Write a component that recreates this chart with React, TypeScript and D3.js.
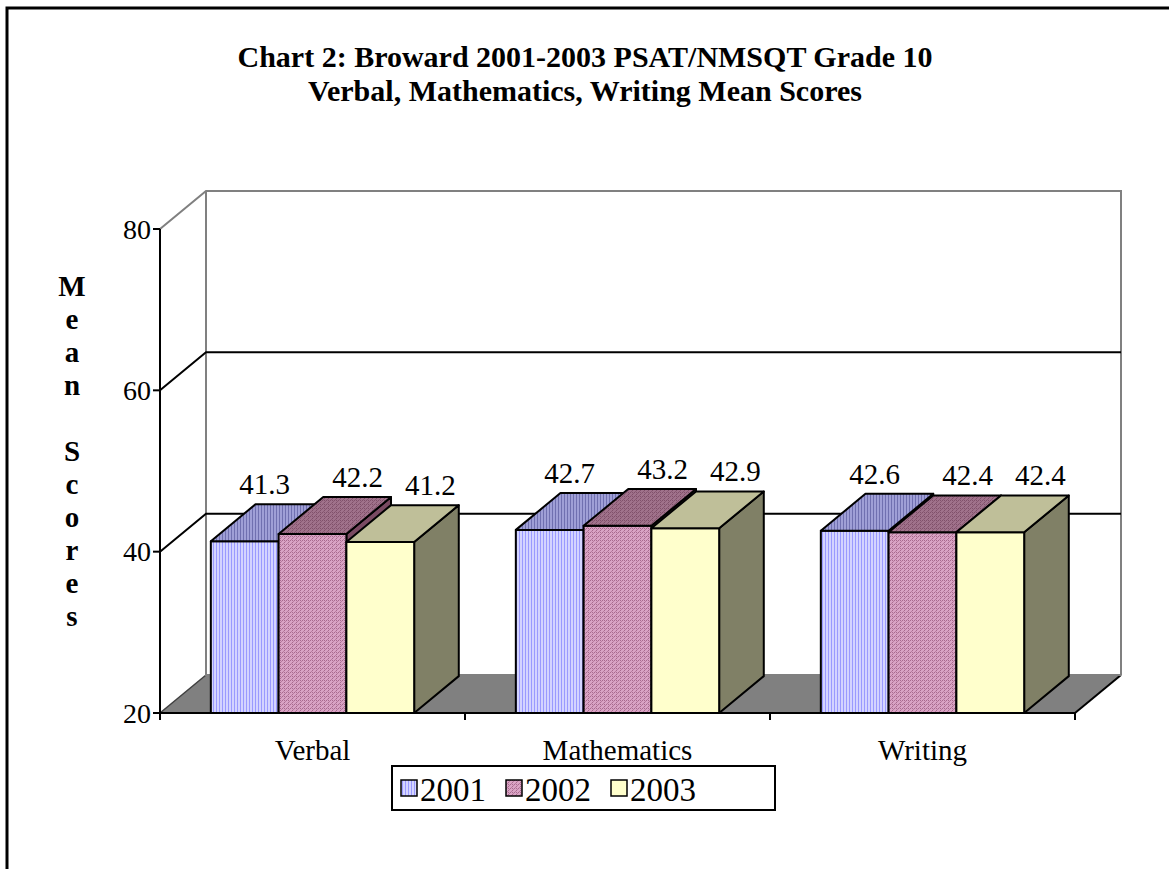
import React from "react";
import * as d3 from "d3";

const categories = ["Verbal", "Mathematics", "Writing"];
const years = ["2001", "2002", "2003"];
const values2001 = [41.3, 42.7, 42.6];
const values2002 = [42.2, 43.2, 42.4];
const values2003 = [41.2, 42.9, 42.4];
const yTicks = [20, 40, 60, 80];
const titleLines = [
  "Chart 2: Broward 2001-2003 PSAT/NMSQT Grade 10",
  "Verbal, Mathematics, Writing Mean Scores",
];
const yTitle = "Mean Scores";

const seriesValues = [values2001, values2002, values2003];

const W = 1169;
const H = 869;
const FONT = "'Liberation Serif', 'Times New Roman', serif";

// 3D projection offsets
const DX = 46;
const DY = -38;
const BAR_DEPTH = 0.97;

const faceFills = [
  { front: "url(#p2001f)", top: "url(#p2001t)", side: "#6666a0" },
  { front: "url(#p2002f)", top: "url(#p2002t)", side: "#7a4a62" },
  { front: "#ffffcc", top: "#bfbf99", side: "#808066" },
];
const legendFills = ["url(#p2001f)", "url(#p2002f)", "#ffffcc"];
const labelNudge = [20, 45, 50];

export default function App() {
  const x0 = 160;
  const x1 = 1075;
  const y = d3.scaleLinear().domain([20, 80]).range([713, 229]);
  const xCat = d3.scaleBand<string>().domain(categories).range([x0, x1]);
  const xSer = d3
    .scaleBand<string>()
    .domain(years)
    .range([0, xCat.bandwidth()])
    .paddingInner(0)
    .paddingOuter(0.75);

  const yBot = y(20);
  const yTop = y(80);
  const bdx = DX * BAR_DEPTH;
  const bdy = DY * BAR_DEPTH;

  const floor = [
    [x0, yBot],
    [x1, yBot],
    [x1 + DX, yBot + DY],
    [x0 + DX, yBot + DY],
  ];
  const line = d3.line();

  const bars: any[] = [];
  const labels: any[] = [];
  categories.forEach((c, ci) => {
    years.forEach((yr, si) => {
      const v = seriesValues[si][ci];
      const bx = (xCat(c) as number) + (xSer(yr) as number);
      const bw = xSer.bandwidth();
      const ty = y(v);
      const f = faceFills[si];
      const front = line([
        [bx, yBot],
        [bx + bw, yBot],
        [bx + bw, ty],
        [bx, ty],
      ]) + "Z";
      const top = line([
        [bx, ty],
        [bx + bdx, ty + bdy],
        [bx + bw + bdx, ty + bdy],
        [bx + bw, ty],
      ]) + "Z";
      const side = line([
        [bx + bw, yBot],
        [bx + bw + bdx, yBot + bdy],
        [bx + bw + bdx, ty + bdy],
        [bx + bw, ty],
      ]) + "Z";
      bars.push(
        <g key={`b-${c}-${yr}`} stroke="#000" strokeWidth={2} strokeLinejoin="round">
          <path d={side} fill={f.side} />
          <path d={front} fill={f.front} />
          <path d={top} fill={f.top} />
        </g>
      );
      labels.push(
        <text
          key={`l-${c}-${yr}`}
          x={bx + bw / 2 + labelNudge[si]}
          y={ty + bdy - 10}
          textAnchor="middle"
          fontSize={29}
          fontFamily={FONT}
        >
          {v.toFixed(1)}
        </text>
      );
    });
  });

  const gridVals = [40, 60];
  const boundaries = [x0, ...categories.map((c) => (xCat(c) as number) + xCat.bandwidth())];

  return (
    <svg
      width={W}
      height={H}
      style={{ position: "absolute", left: 0, top: 0, display: "block", background: "#fff" }}
    >
      <defs>
        <pattern id="p2001f" width={3} height={4} patternUnits="userSpaceOnUse">
          <rect width={3} height={4} fill="#d4d4ff" />
          <rect width={1} height={4} fill="#9a9aff" />
        </pattern>
        <pattern id="p2001t" width={3} height={4} patternUnits="userSpaceOnUse">
          <rect width={3} height={4} fill="#9f9fd6" />
          <rect width={1} height={4} fill="#7070b0" />
        </pattern>
        <pattern id="p2002f" width={4} height={4} patternUnits="userSpaceOnUse">
          <rect width={4} height={4} fill="#d9a3c4" />
          <rect x={0} y={0} width={1} height={1} fill="#a86a8e" />
          <rect x={2} y={0} width={1} height={1} fill="#a86a8e" />
          <rect x={1} y={1} width={1} height={1} fill="#b97c9f" />
          <rect x={0} y={2} width={1} height={1} fill="#a86a8e" />
          <rect x={3} y={3} width={1} height={1} fill="#b97c9f" />
        </pattern>
        <pattern id="p2002t" width={4} height={4} patternUnits="userSpaceOnUse">
          <rect width={4} height={4} fill="#a0728b" />
          <rect x={0} y={0} width={1} height={1} fill="#80506a" />
          <rect x={2} y={0} width={1} height={1} fill="#80506a" />
          <rect x={1} y={1} width={1} height={1} fill="#8a5a74" />
          <rect x={0} y={2} width={1} height={1} fill="#80506a" />
          <rect x={3} y={3} width={1} height={1} fill="#8a5a74" />
        </pattern>
      </defs>

      <rect x={7} y={8} width={1300} height={1000} fill="none" stroke="#000" strokeWidth={3} />

      {titleLines.map((t, i) => (
        <text
          key={t}
          x={585}
          y={67 + i * 34}
          textAnchor="middle"
          fontSize={30}
          fontWeight="bold"
          fontFamily={FONT}
        >
          {t}
        </text>
      ))}

      {/* floor */}
      <path d={line(floor as any) + "Z"} fill="#808080" stroke="none" />
      <path
        d={line([[x0, yBot], [x0 + DX, yBot + DY]] as any) as string}
        stroke="#404040"
        strokeWidth={1.5}
      />
      <path
        d={line([[x1, yBot], [x1 + DX, yBot + DY]] as any) as string}
        stroke="#000"
        strokeWidth={2}
      />

      {/* walls */}
      <g fill="none" stroke="#808080" strokeWidth={2}>
        <path d={line([[x0, yTop], [x0 + DX, yTop + DY], [x1 + DX, yTop + DY], [x1 + DX, yBot + DY]] as any) as string} />
        <path d={line([[x0 + DX, yTop + DY], [x0 + DX, yBot + DY], [x1 + DX, yBot + DY]] as any) as string} />
      </g>
      <g fill="none" stroke="#000" strokeWidth={2}>
        {gridVals.map((v) => (
          <path
            key={v}
            d={line([[x0, y(v)], [x0 + DX, y(v) + DY], [x1 + DX, y(v) + DY]] as any) as string}
          />
        ))}
      </g>

      {/* bars */}
      {bars}

      {/* axes */}
      <g stroke="#000" strokeWidth={2}>
        <line x1={x0} x2={x0} y1={yTop} y2={yBot} />
        {yTicks.map((t) => (
          <line key={t} x1={x0 - 7} x2={x0} y1={y(t)} y2={y(t)} />
        ))}
        <line x1={x0} x2={x1} y1={yBot} y2={yBot} />
        {boundaries.map((b, i) => (
          <line key={i} x1={b} x2={b} y1={yBot} y2={yBot + 7} />
        ))}
      </g>
      {yTicks.map((t) => (
        <text
          key={t}
          x={x0 - 9}
          y={y(t)}
          dy="0.35em"
          textAnchor="end"
          fontSize={28}
          fontFamily={FONT}
        >
          {t}
        </text>
      ))}
      {categories.map((c) => (
        <text
          key={c}
          x={(xCat(c) as number) + xCat.bandwidth() / 2}
          y={760}
          textAnchor="middle"
          fontSize={29}
          fontFamily={FONT}
        >
          {c}
        </text>
      ))}

      {/* y title */}
      {yTitle.split("").map((ch, i) => (
        <text
          key={i}
          x={72}
          y={296 + i * 33}
          textAnchor="middle"
          fontSize={29}
          fontWeight="bold"
          fontFamily={FONT}
        >
          {ch}
        </text>
      ))}

      {/* labels */}
      {labels}

      {/* legend */}
      <rect x={392} y={766} width={383} height={44} fill="#fff" stroke="#000" strokeWidth={2} />
      {years.map((yr, i) => (
        <g key={yr}>
          <rect
            x={401 + i * 105}
            y={780}
            width={16}
            height={16}
            fill={legendFills[i]}
            stroke="#000"
            strokeWidth={1.5}
          />
          <text x={420 + i * 105} y={801} fontSize={33} fontFamily={FONT}>
            {yr}
          </text>
        </g>
      ))}
    </svg>
  );
}
